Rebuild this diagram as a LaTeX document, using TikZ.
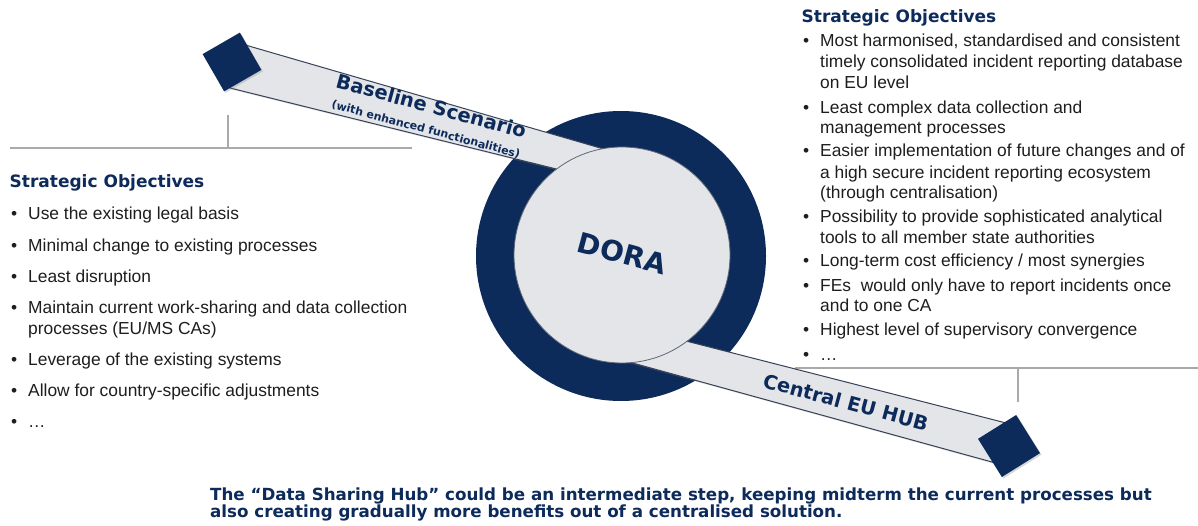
\documentclass[tikz,border=0pt]{standalone}
\usepackage{fontspec}
\setmainfont{Liberation Sans}
\newfontfamily\djv{DejaVu Sans}
\usetikzlibrary{shadows}
\definecolor{navy}{RGB}{12,42,90}
\definecolor{bandgray}{RGB}{227,229,232}
\definecolor{edgegray}{RGB}{55,66,88}
\definecolor{sepgray}{RGB}{170,170,170}
\definecolor{txt}{RGB}{30,30,30}
\begin{document}
\begin{tikzpicture}[x=1pt,y=-1pt,
  sq/.style={fill=navy, minimum size=43pt, inner sep=0pt, draw=none,
    drop shadow={opacity=0.3, shadow xshift=1.5pt, shadow yshift=-1.5pt}},
  band/.style={fill=bandgray, draw=edgegray, line width=1pt, line join=round,
    drop shadow={opacity=0.25, shadow xshift=1.5pt, shadow yshift=-1.5pt}},
  sep/.style={draw=sepgray, line width=1.2pt},
  item/.style={anchor=base west, inner sep=0pt, font=\fontsize{17.4}{21}\selectfont, text=txt},
  head/.style={anchor=base west, inner sep=0pt, font=\djv\bfseries\fontsize{17}{20}\selectfont, text=navy},
  lbl/.style={inner sep=0pt, font=\djv\bfseries\fontsize{19.5}{22}\selectfont, text=navy, rotate=-15, anchor=base},
  note/.style={anchor=base west, inner sep=0pt, font=\djv\bfseries\fontsize{16.7}{17}\selectfont, text=navy}
]
\fill[white] (0,0) rectangle (1198,526);
\useasboundingbox (0,0) rectangle (1198,526);

% separators
\coordinate (lsA) at (10,148);
\coordinate (lsB) at (412,148);
\coordinate (lsT) at (228,115);
\coordinate (lsM) at (228,148);
\draw[sep] (lsA) -- (lsB);
\draw[sep] (lsT) -- (lsM);
\coordinate (rsA) at (795,368);
\coordinate (rsB) at (1198,368);
\coordinate (rsM) at (1018,368);
\coordinate (rsT) at (1018,402);
\draw[sep] (rsA) -- (rsB);
\draw[sep] (rsM) -- (rsT);

% outer ring
\node[circle, fill=navy, minimum size=290pt, inner sep=0pt] (outer) at (621,256) {};

% bands
\draw[band] (235,42) -- (645,161) -- (645,191) -- (230,88) -- cycle;
\draw[band] (600,319) -- (1010,424) -- (1010,467) -- (600,354) -- cycle;

% squares
\node[sq, rotate=30] (sqA) at (232,62) {};
\node[sq, rotate=32, minimum size=45pt] (sqB) at (1009,446) {};

% inner disc
\node[circle, fill=bandgray, draw=edgegray!80, line width=0.8pt, minimum size=216pt, inner sep=0pt] (inner) at (622,255) {};

% labels
\node[lbl, font=\djv\bfseries\fontsize{28}{30}\selectfont] (dora) at (619.5,263) {DORA};
\node[lbl] (base) at (429.5,113) {Baseline Scenario};
\node[lbl, font=\djv\bfseries\fontsize{11}{12}\selectfont] (basesub) at (425,133) {(with enhanced functionalities)};
\node[lbl] (hub) at (844,409) {Central EU HUB};

% left list
\node[head] (lhead) at (9.5,187.3) {Strategic Objectives};
\foreach \yv/\tv [count=\i] in {220/{Use the existing legal basis},
  251.5/{Minimal change to existing processes},
  282.5/{Least disruption},
  313/{Maintain current work-sharing and data collection},
  334/{processes (EU/MS CAs)},
  365/{Leverage of the existing systems},
  396.5/{Allow for country-specific adjustments},
  427.5/{…}}
  \node[item] (L\i) at (28,\yv) {\tv};
\foreach \yv [count=\i] in {220,251.5,282.5,313,365,396.5,427.5}
  \node[item] (LB\i) at (11,\yv) {•};

% right list
\node[head] (rhead) at (801.5,22.7) {Strategic Objectives};
\foreach \yv/\tv [count=\i] in {46.7/{Most harmonised, standardised and consistent},
  67.7/{timely consolidated incident reporting database},
  88.3/{on EU level},
  113.3/{Least complex data collection and},
  133.3/{management processes},
  156.7/{Easier implementation of future changes and of},
  178.3/{a high secure incident reporting ecosystem},
  199/{(through centralisation)},
  222.3/{Possibility to provide sophisticated analytical},
  243.3/{tools to all member state authorities},
  266.7/{Long-term cost efficiency / most synergies},
  291/{FEs\ \ would only have to report incidents once},
  311.7/{and to one CA},
  335/{Highest level of supervisory convergence},
  360/{…}}
  \node[item] (R\i) at (820,\yv) {\tv};
\foreach \yv [count=\i] in {46.7,113.3,156.7,222.3,266.7,291,335,360}
  \node[item] (RB\i) at (803,\yv) {•};

% bottom note
\node[note] (note1) at (210,500.7) {The “Data Sharing Hub” could be an intermediate step, keeping midterm the current processes but};
\node[note] (note2) at (210,517.5) {also creating gradually more benefits out of a centralised solution.};
\end{tikzpicture}
\end{document}
